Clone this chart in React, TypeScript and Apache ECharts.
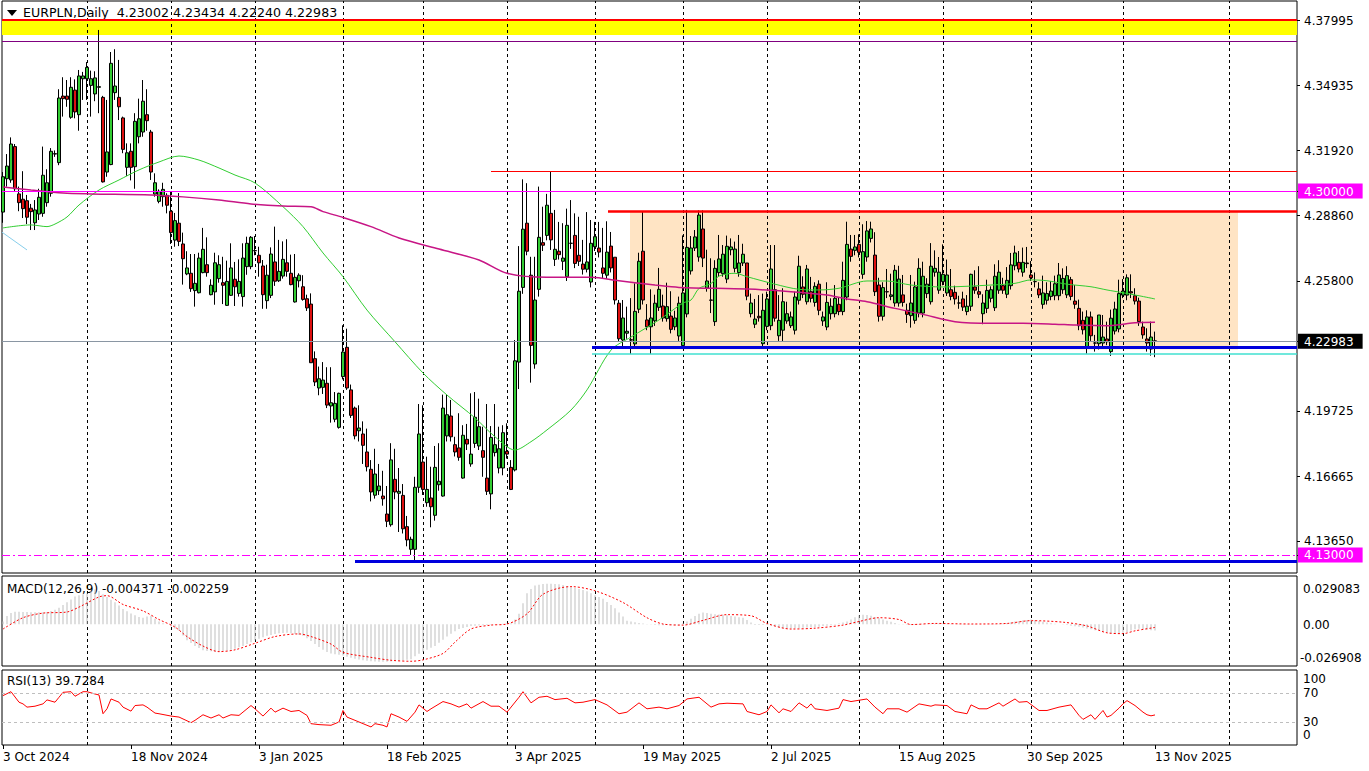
import React, { useEffect, useRef } from "react";
import * as echarts from "echarts";

// ---------------- DATA ----------------
const opens = [
  4.2902,4.3058,4.3052,4.3208,4.2987,4.2962,4.2955,4.2920,4.2852,4.2893,
  4.2896,4.2946,4.2990,4.3175,4.3133,4.3444,4.3444,4.3345,4.3472,4.3357,
  4.3525,4.3525,4.3494,4.3454,4.3485,4.3438,4.3089,4.3124,4.3460,4.3438,
  4.3342,4.3111,4.3186,4.3114,4.3254,4.3276,4.3357,4.3276,4.2986,4.2952,
  4.2974,4.2980,4.2906,4.2771,4.2850,4.2753,4.2613,4.2616,4.2535,4.2525,
  4.2619,4.2656,4.2516,4.2529,4.2591,4.2572,4.2466,4.2513,4.2588,4.2522,
  4.2507,4.2647,4.2647,4.2722,4.2700,4.2650,4.2488,4.2513,4.2669,4.2581,
  4.2603,4.2665,4.2616,4.2482,4.2581,4.2553,4.2497,4.2472,4.2217,4.2080,
  4.2083,4.2102,4.1996,4.1934,4.1896,4.2133,4.2270,4.2071,4.1986,4.1880,
  4.1865,4.1781,4.1700,4.1579,4.1600,4.1575,4.1491,4.1441,4.1653,4.1588,
  4.1578,4.1432,4.1326,4.1326,4.1616,4.1734,4.1544,4.1566,4.1485,4.1628,
  4.1575,4.1856,4.1949,4.1815,4.1800,4.1659,4.1840,4.1725,4.1821,4.1809,
  4.1787,4.1659,4.1585,4.1778,4.1706,4.1706,4.1784,4.1709,4.1697,4.2201,
  4.2550,4.2850,4.2607,4.2192,4.2541,4.2759,4.2793,4.2896,4.2681,4.2719,
  4.2672,4.2600,4.2756,4.2793,4.2700,4.2659,4.2635,4.2575,4.2740,4.2734,
  4.2641,4.2607,4.2743,4.2691,4.2476,4.2304,4.2336,4.2305,4.2286,4.2448,
  4.2719,4.2398,4.2366,4.2394,4.2457,4.2463,4.2404,4.2416,4.2366,4.2323,
  4.2278,4.2426,4.2627,4.2734,4.2692,4.2823,4.2547,4.2491,4.2390,4.2619,
  4.2614,4.2589,4.2726,4.2639,4.2619,4.2664,4.2664,4.2427,4.2378,4.2415,
  4.2287,4.2368,4.2371,4.2539,4.2324,4.2350,4.2393,4.2371,4.2350,4.2490,
  4.2552,4.2483,4.2530,4.2480,4.2565,4.2393,4.2365,4.2427,4.2427,4.2471,
  4.2437,4.2505,4.2729,4.2723,4.2751,4.2611,4.2692,4.2779,4.2701,4.2561,
  4.2415,4.2530,4.2508,4.2477,4.2477,4.2515,4.2443,4.2418,4.2396,4.2430,
  4.2430,4.2521,4.2483,4.2621,4.2537,4.2577,4.2524,4.2539,4.2527,4.2477,
  4.2496,4.2437,4.2462,4.2552,4.2530,4.2427,4.2452,4.2499,4.2455,4.2537,
  4.2558,4.2518,4.2558,4.2651,4.2667,4.2621,4.2664,4.2608,4.2577,4.2543,
  4.2471,4.2490,4.2508,4.2511,4.2511,4.2539,4.2515,4.2586,4.2486,4.2452,
  4.2396,4.2271,4.2412,4.2290,4.2287,4.2290,4.2309,4.2250,4.2346,4.2356,
  4.2514,4.2514,4.2530,4.2511,4.2486,4.2365,4.2309,4.2262,4.23002,
];
const highs = [
  4.3089,4.3173,4.3251,4.3220,4.3021,4.3093,4.2982,4.2940,4.2958,4.3011,
  4.3208,4.3102,4.3201,4.3190,4.3476,4.3532,4.3519,4.3532,4.3522,4.3566,
  4.3557,4.3603,4.3563,4.3560,4.3753,4.3445,4.3426,4.3650,4.3663,4.3613,
  4.3348,4.3223,4.3223,4.3364,4.3432,4.3519,4.3476,4.3286,4.3083,4.3008,
  4.3039,4.2990,4.2999,4.2898,4.2991,4.2806,4.2719,4.2706,4.2706,4.2712,
  4.2828,4.2784,4.2588,4.2712,4.2700,4.2693,4.2675,4.2756,4.2669,4.2681,
  4.2756,4.2787,4.2790,4.2790,4.2740,4.2678,4.2656,4.2737,4.2834,4.2772,
  4.2765,4.2775,4.2703,4.2706,4.2616,4.2607,4.2516,4.2522,4.2251,4.2180,
  4.2201,4.2177,4.2177,4.2061,4.2058,4.2373,4.2357,4.2096,4.1993,4.1999,
  4.1924,4.1890,4.1743,4.1796,4.1725,4.1693,4.1622,4.1822,4.1796,4.1706,
  4.1631,4.1482,4.1385,4.1665,4.2005,4.1999,4.1759,4.1712,4.1809,4.1822,
  4.2049,4.2049,4.2024,4.1852,4.1962,4.1906,4.1912,4.2055,4.2061,4.2030,
  4.1899,4.2005,4.1902,4.2005,4.1899,4.1906,4.1915,4.1743,4.2304,4.2743,
  4.3055,4.3037,4.2693,4.2693,4.3021,4.2927,4.2987,4.3093,4.2912,4.2856,
  4.2850,4.2918,4.2958,4.2896,4.2880,4.2772,4.2902,4.2865,4.2856,4.2856,
  4.2828,4.2859,4.2809,4.2691,4.2491,4.2491,4.2460,4.2500,4.2569,4.2712,
  4.2906,4.2472,4.2541,4.2516,4.2641,4.2516,4.2572,4.2532,4.2441,4.2507,
  4.2793,4.2912,4.2790,4.2818,4.2910,4.2910,4.2726,4.2686,4.2677,4.2795,
  4.2748,4.2792,4.2779,4.2764,4.2795,4.2754,4.2664,4.2521,4.2496,4.2514,
  4.2521,4.2530,4.2748,4.2748,4.2514,4.2546,4.2483,4.2437,4.2530,4.2698,
  4.2602,4.2655,4.2599,4.2574,4.2583,4.2437,4.2574,4.2499,4.2561,4.2505,
  4.2670,4.2857,4.2795,4.2795,4.2798,4.2845,4.2860,4.2857,4.2808,4.2595,
  4.2574,4.2636,4.2614,4.2655,4.2651,4.2608,4.2474,4.2608,4.2577,4.2686,
  4.2670,4.2593,4.2757,4.2723,4.2692,4.2751,4.2680,4.2636,4.2558,4.2511,
  4.2530,4.2514,4.2614,4.2630,4.2649,4.2518,4.2586,4.2555,4.2658,4.2677,
  4.2595,4.2645,4.2711,4.2745,4.2720,4.2736,4.2739,4.2673,4.2620,4.2574,
  4.2605,4.2574,4.2580,4.2605,4.2664,4.2639,4.2649,4.2599,4.2561,4.2493,
  4.2437,4.2443,4.2437,4.2328,4.2421,4.2421,4.2390,4.2446,4.2483,4.2586,
  4.2589,4.2611,4.2611,4.2546,4.2502,4.2390,4.2359,4.2390,4.23434,
];
const lows = [
  4.2852,4.3021,4.3039,4.2996,4.2906,4.2874,4.2846,4.2818,4.2818,4.2865,
  4.2880,4.2927,4.2974,4.3160,4.3121,4.3348,4.3394,4.3338,4.3340,4.3282,
  4.3426,4.3426,4.3348,4.3420,4.3364,4.3040,4.3067,4.3121,4.3426,4.3332,
  4.3177,4.3071,4.3050,4.3011,4.3223,4.3254,4.3282,4.3052,4.2974,4.2943,
  4.2927,4.2896,4.2753,4.2740,4.2743,4.2563,4.2607,4.2529,4.2460,4.2522,
  4.2616,4.2600,4.2513,4.2469,4.2572,4.2472,4.2463,4.2510,4.2463,4.2507,
  4.2460,4.2609,4.2635,4.2700,4.2600,4.2450,4.2450,4.2500,4.2557,4.2575,
  4.2591,4.2600,4.2560,4.2479,4.2550,4.2488,4.2440,4.2197,4.2089,4.2046,
  4.2052,4.1986,4.1918,4.1920,4.1890,4.2120,4.2071,4.1940,4.1840,4.1830,
  4.1725,4.1690,4.1550,4.1563,4.1580,4.1530,4.1430,4.1432,4.1560,4.1407,
  4.1400,4.1340,4.1300,4.1267,4.1590,4.1580,4.1525,4.1429,4.1460,4.1600,
  4.1572,4.1830,4.1830,4.1760,4.1740,4.1656,4.1790,4.1712,4.1800,4.1790,
  4.1665,4.1580,4.1513,4.1760,4.1681,4.1672,4.1750,4.1603,4.1690,4.2075,
  4.2520,4.2700,4.2105,4.2170,4.2507,4.2720,4.2770,4.2725,4.2650,4.2680,
  4.2631,4.2580,4.2730,4.2640,4.2650,4.2610,4.2620,4.2550,4.2720,4.2690,
  4.2590,4.2590,4.2620,4.2470,4.2295,4.2273,4.2310,4.2239,4.2270,4.2430,
  4.2470,4.2350,4.2239,4.2370,4.2440,4.2390,4.2390,4.2335,4.2350,4.2300,
  4.2265,4.2410,4.2610,4.2720,4.2670,4.2645,4.2530,4.2430,4.2370,4.2600,
  4.2600,4.2570,4.2700,4.2620,4.2600,4.2650,4.2490,4.2410,4.2360,4.2390,
  4.2270,4.2350,4.2350,4.2390,4.2300,4.2296,4.2380,4.2360,4.2330,4.2470,
  4.2500,4.2470,4.2480,4.2460,4.2420,4.2370,4.2350,4.2400,4.2410,4.2420,
  4.2420,4.2490,4.2670,4.2700,4.2690,4.2590,4.2670,4.2760,4.2510,4.2390,
  4.2395,4.2500,4.2490,4.2460,4.2460,4.2460,4.2384,4.2362,4.2380,4.2410,
  4.2410,4.2500,4.2470,4.2600,4.2520,4.2560,4.2510,4.2490,4.2470,4.2450,
  4.2440,4.2420,4.2440,4.2520,4.2500,4.2378,4.2430,4.2480,4.2440,4.2520,
  4.2520,4.2500,4.2540,4.2630,4.2620,4.2600,4.2640,4.2580,4.2550,4.2500,
  4.2450,4.2470,4.2490,4.2490,4.2490,4.2520,4.2500,4.2490,4.2450,4.2350,
  4.2330,4.2240,4.2300,4.2250,4.2260,4.2270,4.2280,4.2230,4.2330,4.2340,
  4.2500,4.2490,4.2500,4.2470,4.2370,4.2310,4.2250,4.2231,4.22240,
];
const closes = [
  4.3067,4.3117,4.3220,4.3011,4.2946,4.2918,4.2878,4.2904,4.2912,4.2971,
  4.3074,4.3039,4.3186,4.3173,4.3435,4.3432,4.3429,4.3485,4.3370,4.3538,
  4.3538,4.3578,4.3525,4.3529,4.3488,4.3043,4.3183,4.3597,4.3491,4.3394,
  4.3195,4.3179,4.3111,4.3326,4.3338,4.3420,4.3329,4.3089,4.3039,4.2999,
  4.3008,4.2934,4.2806,4.2862,4.2765,4.2684,4.2641,4.2544,4.2569,4.2687,
  4.2728,4.2619,4.2560,4.2665,4.2656,4.2560,4.2578,4.2641,4.2553,4.2578,
  4.2687,4.2756,4.2784,4.2721,4.2665,4.2516,4.2607,4.2706,4.2579,4.2625,
  4.2681,4.2625,4.2563,4.2597,4.2607,4.2494,4.2454,4.2198,4.2108,4.2123,
  4.2117,4.2000,4.2011,4.2008,4.2055,4.2248,4.2080,4.1952,4.1856,4.1893,
  4.1812,4.1712,4.1594,4.1678,4.1622,4.1562,4.1457,4.1744,4.1594,4.1597,
  4.1422,4.1370,4.1373,4.1616,4.1865,4.1606,4.1606,4.1525,4.1709,4.1644,
  4.1986,4.1955,4.1852,4.1781,4.1756,4.1859,4.1818,4.1771,4.1943,4.1899,
  4.1756,4.1597,4.1849,4.1815,4.1796,4.1871,4.1771,4.1606,4.2207,4.2532,
  4.2822,4.2719,4.2279,4.2491,4.2784,4.2747,4.2934,4.2772,4.2728,4.2703,
  4.2687,4.2840,4.2756,4.2662,4.2672,4.2635,4.2669,4.2756,4.2787,4.2715,
  4.2616,4.2715,4.2641,4.2491,4.2310,4.2407,4.2345,4.2304,4.2438,4.2672,
  4.2491,4.2366,4.2407,4.2476,4.2541,4.2407,4.2460,4.2354,4.2407,4.2476,
  4.2524,4.2737,4.2734,4.2786,4.2888,4.2687,4.2580,4.2490,4.2639,4.2683,
  4.2705,4.2742,4.2739,4.2729,4.2664,4.2705,4.2509,4.2477,4.2402,4.2408,
  4.2443,4.2496,4.2636,4.2406,4.2396,4.2483,4.2427,4.2412,4.2505,4.2649,
  4.2518,4.2636,4.2499,4.2555,4.2443,4.2412,4.2480,4.2462,4.2499,4.2437,
  4.2583,4.2751,4.2695,4.2739,4.2714,4.2717,4.2814,4.2823,4.2530,4.2415,
  4.2549,4.2529,4.2515,4.2630,4.2589,4.2480,4.2424,4.2477,4.2552,4.2639,
  4.2602,4.2565,4.2649,4.2639,4.2621,4.2611,4.2608,4.2508,4.2496,4.2477,
  4.2458,4.2462,4.2611,4.2537,4.2518,4.2477,4.2536,4.2539,4.2602,4.2621,
  4.2537,4.2583,4.2655,4.2711,4.2636,4.2667,4.2661,4.2595,4.2577,4.2515,
  4.2524,4.2521,4.2533,4.2567,4.2608,4.2592,4.2605,4.2508,4.2471,4.2371,
  4.2352,4.2412,4.2324,4.2290,4.2421,4.2318,4.2296,4.2406,4.2449,4.2521,
  4.2533,4.2595,4.2524,4.2486,4.2390,4.2328,4.2290,4.2318,4.22983,
];

// moving averages read at bar indices
const fastMaIdx = [0,7,11,13,16,19,24,29,34,39,44,49,54,58,63,70,75,80,85,91,98,105,111,118,123,128,132,136,142,146,152,157,164,170,172,174,177,179,183,186,193,199,204,209,216,221,227,235,247,253,257,261,266,272,276,280,284,288];
const fastMaVal = [4.2828,4.2842,4.2834,4.2846,4.2879,4.2935,4.3005,4.3052,4.3099,4.3136,4.3164,4.3145,4.3108,4.3075,4.3038,4.2927,4.2834,4.2711,4.2600,4.2444,4.2296,4.2150,4.2047,4.1940,4.1852,4.1790,4.1829,4.1884,4.1977,4.2071,4.2257,4.2318,4.2398,4.2477,4.2491,4.2545,4.2568,4.2603,4.2616,4.2600,4.2565,4.2541,4.2538,4.2546,4.2580,4.2580,4.2561,4.2552,4.2561,4.2569,4.2585,4.2581,4.2565,4.2553,4.2538,4.2525,4.2511,4.2496];
const slowMaIdx = [0,7,15,22,37,45,54,62,70,77,80,85,92,99,109,119,126,136,147,154,163,169,186,197,206,211,216,223,230,238,247,255,263,268,276,280,283,288];
const slowMaVal = [4.3019,4.3005,4.2991,4.2987,4.2982,4.2973,4.2958,4.2940,4.2930,4.2927,4.2904,4.2877,4.2834,4.2781,4.2729,4.2678,4.2616,4.2597,4.2597,4.2581,4.2561,4.2550,4.2542,4.2530,4.2514,4.2496,4.2483,4.2452,4.2424,4.2390,4.2382,4.2382,4.2378,4.2374,4.2371,4.2378,4.2385,4.2387];
const trendIdx = [-0.25, 6];
const trendVal = [4.2808, 4.2725];

// MACD(12,26,9): histogram per bar (in thousandths), signal read at bar indices
const macdHistMilli = [
  2,6,8,9,9,8.8,8.8,8.7,8.6,8.6,
  8.7,8.8,9.5,10.5,11.8,13.8,15.8,17.8,19.9,20.8,
  21.5,22.3,23.6,25,23.8,21.5,19.5,17.5,15.8,13.5,
  11,9.3,7.8,6.4,5.2,4.7,5.6,6.1,4,2,
  0.8,0,-1.5,-3,-4.5,-8,-11.5,-13.5,-15.6,-17,
  -18.6,-19.1,-19.4,-19.6,-19.6,-19.2,-18.8,-18.3,-17.5,-16.5,
  -15.6,-14.2,-12.8,-11.5,-10.4,-9.3,-8.3,-7.6,-7,-6.5,
  -6.2,-6.1,-6.4,-7,-7.6,-8.3,-10,-12,-14.2,-16.2,
  -18.2,-19.8,-20.9,-21.4,-21.9,-22.3,-23.2,-24,-24.7,-25.3,
  -25.8,-26.2,-26.5,-26.7,-26.8,-26.9,-26.8,-26.6,-26.4,-26.2,
  -25.9,-25.4,-25,-23,-21.2,-19.6,-18.2,-16.8,-15.6,-13.2,
  -11,-8.8,-6.8,-5,-3.4,-2.6,-1.9,-1.3,-1,-0.8,
  -0.7,-0.6,-0.4,-0.2,0.2,0.4,0.6,0.8,3.5,7.5,
  15,22.3,25.2,27.8,28.4,28.8,29.08,29,28.8,28.6,
  28.2,27.5,26.7,26,25.2,24.5,23.7,22.2,20.8,19.5,
  18.3,16,13.8,11.5,8.5,5.5,2.6,2,1.5,1,
  0.6,0.2,-0.2,-0.6,-0.7,-0.7,-0.6,-0.6,-0.6,-0.6,
  0.8,2,4,6,7.5,8.5,8,7.5,7.2,7,
  6.9,6.4,6,5.5,5,4.7,3,1.2,-0.6,-0.6,
  -0.6,-0.6,-0.8,-1.6,-2.3,-2.8,-2.9,-2.9,-2.8,-2.7,
  -2.5,-2.3,-2.1,-2,-1.7,-1.3,-1,-0.7,-0.3,0.5,
  1.2,2,3.5,5,6.5,6.9,6.6,6.1,5.2,4.3,
  3.4,2.6,1.8,1,0.2,-0.2,-0.4,-0.5,-0.6,-0.4,
  -0.2,0,0.3,0.5,0.6,0.6,0.4,0.2,0,-0.1,
  -0.2,-0.2,-0.2,-0.1,0,0.1,0.1,0.2,0.2,0.2,
  0.6,1,1.5,2,2.4,2.8,3.1,3.4,3,2.4,
  1.8,1.3,0.8,0.4,0,-0.2,-0.6,-1,-1.4,-1.8,
  -2.3,-3,-3.6,-4.2,-4.7,-5.2,-5.8,-6.4,-6.7,-6.5,
  -6.1,-5.5,-4.5,-3.5,-3.2,-3.5,-3.9,-4.2,-4.371,
];
const signalIdx = [0,5,10,16,19,24,26,30,35,39,43,46,50,54,58,63,68,74,77,82,85,92,97,102,105,110,113,117,122,126,131,135,142,148,155,161,165,170,175,181,187,191,197,203,210,214,219,224,227,233,242,251,257,265,271,276,280,283,288];
const signalMilli = [-3.4,4.7,8,8.8,12.3,19.6,20.5,14.2,9.6,3.4,-2,-8.8,-15.6,-19.6,-18.3,-13.6,-8.8,-6.9,-8.8,-14.2,-20.1,-23.7,-25.8,-26.5,-25.5,-20.9,-12.8,-3.4,-0.6,0.2,7.5,21.5,27,24,15.6,4.7,0.2,-0.6,2.8,6.9,6.1,0.6,-3.4,-2.8,-0.6,2,4.7,3.4,-0.2,0.6,0.2,0.6,2.6,1.5,-1.2,-6.1,-6.7,-4.7,-2.259];

// RSI(13) read at bar indices
const rsiIdx = [0,2,4,5,6,8,10,11,13,14,15,17,18,20,21,23,24,25,26,27,29,30,32,33,35,36,38,39,42,44,47,48,50,52,54,55,57,59,62,63,65,67,68,70,72,74,76,77,79,82,84,85,86,88,92,93,95,96,97,99,101,103,104,106,107,110,112,114,116,117,120,122,124,126,129,130,132,134,136,138,141,143,145,148,151,154,156,159,161,164,166,169,171,174,177,179,181,185,186,189,191,192,194,195,197,199,201,202,203,206,209,210,212,216,218,220,221,224,226,229,232,233,236,238,241,242,244,246,249,250,253,254,256,259,261,264,267,269,270,271,272,273,275,276,277,279,280,281,283,285,286,287,288];
const rsiVal = [66.4,71.8,57.3,55,50.5,51.8,55,60.5,57.3,64.1,70.9,71.8,65.5,71.8,71.8,68.6,67.3,41.4,48.2,61.8,57.3,50.5,45,52.7,53.6,50.5,42.3,41.4,38.2,36.8,29.1,32.3,40,35.5,40,35.5,40,39.1,52.7,48.2,38.2,49.1,43.6,49.1,44.5,45.9,39.1,27.7,26.4,25.5,30,45.9,36.8,32.3,23.2,27.7,25.5,23.2,41.4,36.8,30.9,43.6,53.6,44.5,48.2,58.2,55,50.5,55,49.1,58.2,51.8,51.8,43.6,64.1,71.8,56.4,64.1,65.5,60.9,62.7,56.4,57.3,60.9,53.6,41.4,43.6,56.4,48.2,50.5,48.2,52.7,61.8,64.1,50.5,55,55.9,55,44.5,40,44.5,53.6,42.7,48.2,44.5,56.4,49.1,55,48.2,45.9,49.1,60.9,58.2,61.8,50.5,41.4,48.2,48.2,43.6,55,51.8,53.6,52.7,44.5,41.4,53.6,48.2,48.2,56.4,51.8,61.8,57.3,58.2,45.9,45.9,50.5,53.6,39.1,33.6,36.8,40,33.6,45.9,36.8,39.1,49.1,55,59.5,52.7,43.6,40,38.5,39.7284];

// axes / tick labels
const priceTicks = [4.37995, 4.34935, 4.3192, 4.3, 4.2886, 4.258, 4.22983, 4.19725, 4.16665, 4.1365, 4.13];
const magentaPriceTags = [4.3, 4.13];
const currentPriceTag = 4.22983;
const dateTickIdx = [0, 32, 64, 96, 128, 160, 192, 224, 256, 288];
const dateTickLabels = ["3 Oct 2024", "18 Nov 2024", "3 Jan 2025", "18 Feb 2025", "3 Apr 2025", "19 May 2025", "2 Jul 2025", "15 Aug 2025", "30 Sep 2025", "13 Nov 2025"];
const monthStartIdx = [21, 42, 63, 85, 105, 126, 148, 170, 191, 214, 235, 257, 280, 306.5];
const macdScaleLabels = ["0.029083", "0.00", "-0.026908"];
const rsiScaleLabels = ["100", "70", "30", "0"];

// chart objects (levels)
const bandTop = 4.37995, bandBottom = 4.3729;
const rangeBox = { x0: 156.75, x1: 308.75, top: 4.2905, bottom: 4.226 };
const lineRedThin = { from: 122, price: 4.3094 };
const lineRedThick = { from: 151.25, price: 4.2905 };
const lineBlueUpper = { from: 147.25, price: 4.2271 };
const lineTurquoise = { from: 147.25, price: 4.2239 };
const lineBlueLower = { from: 88, price: 4.1268 };

const FONT = '"DejaVu Sans", Verdana, sans-serif';
const X_MIN = -0.25, X_MAX = 323.5;
const Y_MIN = 4.12154, Y_MAX = 4.38883;

export default function App() {
  const ref = useRef<HTMLDivElement>(null);
  useEffect(() => {
    const chart = echarts.init(ref.current!, null, { renderer: "svg" });
    const candleData = opens.map((o, i) => [i, o, closes[i], lows[i], highs[i]]);
    const pairs = (xs: number[], ys: number[], k = 1) => xs.map((x, i) => [x, ys[i] * k]);
    const dashed = { color: "#000", width: 1, type: [3, 3] as any };
    const noLine = { show: false, onZero: false };
    const fmtPrice = (v: number) => {
      const s = v.toFixed(5);
      if (magentaPriceTags.some((p) => Math.abs(p - v) < 1e-7)) return `{m|${s}}`;
      if (Math.abs(currentPriceTag - v) < 1e-7) return `{k|${s}}`;
      return `{n|${s}}`;
    };
    const hLine = (price: number, color: string, width: number, type: any = "solid", from?: number) => {
      const ls = { color, width, type };
      if (from === undefined) return { yAxis: price, lineStyle: ls };
      return [{ coord: [from, price], lineStyle: ls }, { coord: [X_MAX, price], lineStyle: ls }];
    };
    const textStyle = (text: string, size = 12) => ({ text, fill: "#000", font: `${size}px ${FONT}`, verticalAlign: "middle", align: "left" });

    const option: any = {
      animation: false,
      backgroundColor: "#fff",
      grid: [
        { left: 2, top: 1, width: 1295, height: 572 },
        { left: 2, top: 576, width: 1295, height: 90 },
        { left: 2, top: 670, width: 1295, height: 75 },
      ].map((g) => ({ ...g, show: true, borderColor: "#000", borderWidth: 1, backgroundColor: "#fff" })),
      xAxis: [
        { gridIndex: 0, type: "value", min: X_MIN, max: X_MAX, position: "bottom", z: 1.5, axisLine: noLine, axisLabel: { show: false }, splitLine: { show: false }, axisTick: { show: true, inside: true, length: 572, customValues: monthStartIdx, lineStyle: dashed } },
        { gridIndex: 1, type: "value", min: X_MIN, max: X_MAX, position: "bottom", axisLine: noLine, axisLabel: { show: false }, splitLine: { show: false }, axisTick: { show: true, inside: true, length: 90, customValues: monthStartIdx, lineStyle: dashed } },
        { gridIndex: 2, type: "value", min: X_MIN, max: X_MAX, position: "top", axisLine: noLine, axisLabel: { show: false }, splitLine: { show: false }, axisTick: { show: true, inside: true, length: 75, customValues: monthStartIdx, lineStyle: dashed } },
        {
          gridIndex: 2, type: "value", min: X_MIN, max: X_MAX, position: "bottom", axisLine: noLine, splitLine: { show: false },
          axisTick: { show: true, length: 4, customValues: dateTickIdx, lineStyle: { color: "#000" } },
          axisLabel: {
            customValues: dateTickIdx, align: "left", margin: 6, color: "#000", fontSize: 12, fontFamily: FONT,
            formatter: (v: number) => dateTickLabels[dateTickIdx.indexOf(Math.round(v))] ?? "",
          },
        },
      ],
      yAxis: [
        {
          gridIndex: 0, type: "value", position: "right", min: Y_MIN, max: Y_MAX, splitLine: { show: false }, axisLine: noLine,
          axisTick: { show: true, length: 3, customValues: priceTicks, lineStyle: { color: "#000" } },
          axisLabel: {
            customValues: priceTicks, margin: 1, formatter: fmtPrice,
            rich: {
              n: { color: "#000", fontSize: 12, fontFamily: FONT, padding: [2, 9, 1, 6] },
              m: { color: "#fff", backgroundColor: "#FF00FF", fontSize: 12, fontFamily: FONT, padding: [2, 9, 1, 6] },
              k: { color: "#fff", backgroundColor: "#000", fontSize: 12, fontFamily: FONT, padding: [2, 9, 1, 6] },
            },
          },
        },
        { gridIndex: 1, type: "value", position: "right", min: -0.0299, max: 0.0346, splitLine: { show: false }, axisLine: noLine, axisLabel: { show: false }, axisTick: { show: false } },
        { gridIndex: 2, type: "value", position: "right", min: -1.7, max: 101.7, splitLine: { show: false }, axisLine: noLine, axisLabel: { show: false }, axisTick: { show: false } },
      ],
      series: [
        {
          // background objects: yellow band and range box
          type: "line", xAxisIndex: 0, yAxisIndex: 0, data: [], silent: true,
          markArea: {
            silent: true, z: 1,
            data: [
              [{ coord: [X_MIN, bandTop], itemStyle: { color: "#FFFF00" } }, { coord: [X_MAX, bandBottom] }],
              [{ coord: [rangeBox.x0, rangeBox.top], itemStyle: { color: "#FFE4C4" } }, { coord: [rangeBox.x1, rangeBox.bottom] }],
            ],
          },
        },
        {
          name: "EURPLN", type: "candlestick", xAxisIndex: 0, yAxisIndex: 0, z: 3, barWidth: 3, data: candleData,
          itemStyle: { color: "#33CC33", color0: "#DD1111", borderColor: "#000", borderColor0: "#000", borderColorDoji: "#000", borderWidth: 1 },
        },
        { type: "line", xAxisIndex: 0, yAxisIndex: 0, z: 4, data: pairs(fastMaIdx, fastMaVal), symbol: "none", smooth: 0.3, lineStyle: { color: "#32CD32", width: 1 } },
        { type: "line", xAxisIndex: 0, yAxisIndex: 0, z: 4, data: pairs(slowMaIdx, slowMaVal), symbol: "none", smooth: 0.3, lineStyle: { color: "#C71585", width: 1.5 } },
        { type: "line", xAxisIndex: 0, yAxisIndex: 0, z: 4, data: pairs(trendIdx, trendVal), symbol: "none", lineStyle: { color: "#87CEEB", width: 1 } },
        {
          // horizontal level lines
          type: "line", xAxisIndex: 0, yAxisIndex: 0, data: [], silent: true,
          markLine: {
            silent: true, symbol: ["none", "none"], label: { show: false }, z: 5,
            data: [
              hLine(bandTop, "#FF0000", 2),
              hLine(bandBottom, "#800080", 1),
              hLine(lineRedThin.price, "#FF0000", 1, "solid", lineRedThin.from),
              hLine(4.3, "#FF00FF", 1),
              hLine(lineRedThick.price, "#FF0000", 2.5, "solid", lineRedThick.from),
              hLine(currentPriceTag, "#8A96A3", 1),
              hLine(lineBlueUpper.price, "#0000DD", 3, "solid", lineBlueUpper.from),
              hLine(lineTurquoise.price, "#40E0D0", 1.5, "solid", lineTurquoise.from),
              hLine(4.13, "#FF00FF", 1, [8, 3, 2, 3]),
              hLine(lineBlueLower.price, "#0000DD", 3, "solid", lineBlueLower.from),
            ],
          },
        },
        { type: "bar", xAxisIndex: 1, yAxisIndex: 1, barWidth: 1, data: pairs(opens.map((_, i) => i), macdHistMilli, 0.001), itemStyle: { color: "#C0C0C0" }, silent: true },
        { type: "line", xAxisIndex: 1, yAxisIndex: 1, data: pairs(signalIdx, signalMilli, 0.001), symbol: "none", smooth: 0.3, lineStyle: { color: "#FF0000", width: 1, type: [2, 2] } },
        {
          type: "line", xAxisIndex: 2, yAxisIndex: 2, data: pairs(rsiIdx, rsiVal), symbol: "none", lineStyle: { color: "#FF0000", width: 1 },
          markLine: { silent: true, symbol: ["none", "none"], label: { show: false }, lineStyle: { color: "#BEBEBE", type: [3, 3], width: 1 }, data: [{ yAxis: 70 }, { yAxis: 30 }] },
        },
      ],
      graphic: [
        { type: "polygon", shape: { points: [[7, 10], [17, 10], [12, 16]] }, style: { fill: "#000" } },
        { type: "text", x: 23, y: 12, style: textStyle("EURPLN,Daily  4.23002 4.23434 4.22240 4.22983", 12.6) },
        { type: "text", x: 7, y: 589, style: textStyle("MACD(12,26,9) -0.004371 -0.002259") },
        { type: "text", x: 7, y: 681, style: textStyle("RSI(13) 39.7284") },
        { type: "text", x: 1303, y: 589, style: textStyle(macdScaleLabels[0]) },
        { type: "text", x: 1303, y: 625, style: textStyle(macdScaleLabels[1]) },
        { type: "text", x: 1300, y: 658, style: textStyle(macdScaleLabels[2]) },
        { type: "text", x: 1303, y: 679, style: textStyle(rsiScaleLabels[0]) },
        { type: "text", x: 1303, y: 693, style: textStyle(rsiScaleLabels[1]) },
        { type: "text", x: 1303, y: 722, style: textStyle(rsiScaleLabels[2]) },
        { type: "text", x: 1303, y: 735, style: textStyle(rsiScaleLabels[3]) },
      ],
    };
    chart.setOption(option);
    return () => chart.dispose();
  }, []);
  return <div ref={ref} style={{ position: "fixed", left: 0, top: 0, width: 1369, height: 771, background: "#fff" }} />;
}
